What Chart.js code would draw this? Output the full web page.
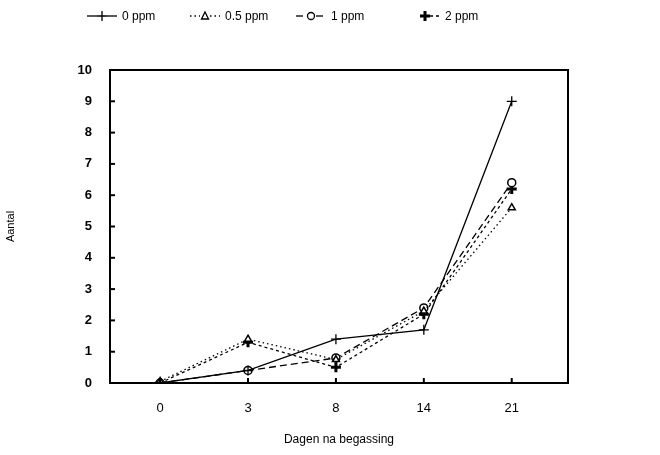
<!DOCTYPE html>
<html>
<head>
<meta charset="utf-8">
<script src="https://cdn.jsdelivr.net/npm/chart.js@4"></script>
<style>
  body { margin: 0; background: #fff; }
  #wrap { position: relative; width: 660px; height: 455px; }
  #legend { position: absolute; top: 7px; left: 0; width: 660px; height: 20px;
    font: 12px "Liberation Sans", Arial, sans-serif; color: #000; }
  .item { position: absolute; top: 0; display: flex; align-items: center; white-space: nowrap; }
  .item svg { margin-right: 5px; }
</style>
</head>
<body>
<div id="wrap">
  <canvas id="chart" width="660" height="455"></canvas>
  <div id="legend"></div>
</div>
<script>
const days = ['0', '3', '8', '14', '21'];
const seriesNames = ['0 ppm', '0.5 ppm', '1 ppm', '2 ppm'];
const ppm0 = [0, 0.4, 1.4, 1.7, 9.0];
const ppm05 = [0.05, 1.4, 0.75, 2.3, 5.6];
const ppm1 = [0, 0.4, 0.8, 2.4, 6.4];
const ppm2 = [0, 1.3, 0.5, 2.2, 6.2];
const yTicks = [0, 1, 2, 3, 4, 5, 6, 7, 8, 9, 10];

const styles = [
  { dash: [], point: 'cross', radius: 5, pw: 1.3, fill: '#fff' },
  { dash: [1.5, 3], point: 'triangle', radius: 4, pw: 1.5, fill: '#fff' },
  { dash: [7, 4], point: 'circle', radius: 4, pw: 1.5, fill: '#fff' },
  { dash: [3, 3], point: 'cross', radius: 5, pw: 3, fill: '#000' }
];
const values = [ppm0, ppm05, ppm1, ppm2];

const datasets = values.map((v, i) => ({
  label: seriesNames[i],
  data: v.map((y, j) => ({ x: j, y: y })),
  borderColor: '#000',
  borderWidth: 1.3,
  borderDash: styles[i].dash,
  pointStyle: styles[i].point,
  pointRadius: styles[i].radius,
  pointBorderWidth: styles[i].pw,
  pointBorderColor: '#000',
  pointBackgroundColor: styles[i].fill,
  tension: 0
}));

// frame and inward tick marks
const framePlugin = {
  id: 'frame',
  afterDatasetsDraw(chart) {
    const { ctx, chartArea: a, scales } = chart;
    ctx.save();
    ctx.strokeStyle = '#000';
    ctx.lineWidth = 2;
    ctx.strokeRect(a.left, a.top, a.right - a.left, a.bottom - a.top);
    ctx.lineWidth = 2;
    yTicks.forEach(t => {
      const y = scales.y.getPixelForValue(t);
      ctx.beginPath(); ctx.moveTo(a.left, y); ctx.lineTo(a.left + 5, y); ctx.stroke();
    });
    days.forEach((d, i) => {
      const x = scales.x.getPixelForValue(i);
      ctx.beginPath(); ctx.moveTo(x, a.bottom); ctx.lineTo(x, a.bottom - 5); ctx.stroke();
    });
    ctx.restore();
  }
};

const tickFont = { family: '"Liberation Sans", Arial, sans-serif', size: 13, weight: 'bold' };

new Chart(document.getElementById('chart'), {
  type: 'line',
  data: { datasets },
  options: {
    responsive: false,
    animation: false,
    layout: { padding: { top: 70, right: 92, left: 0, bottom: 0 } },
    plugins: { legend: { display: false }, tooltip: { enabled: false } },
    scales: {
      x: {
        type: 'linear',
        min: -0.57,
        max: 4.64,
        afterBuildTicks: s => { s.ticks = days.map((d, i) => ({ value: i })); },
        afterFit: s => { s.height = 72; },
        grid: { display: false },
        border: { display: false },
        ticks: { callback: v => days[v], color: '#000', font: { family: tickFont.family, size: 13 }, padding: 10 },
        title: { display: true, text: 'Dagen na begassing', color: '#000',
          font: { family: tickFont.family, size: 12 }, padding: { top: 0, bottom: 8 } }
      },
      y: {
        min: 0,
        max: 10,
        afterBuildTicks: s => { s.ticks = yTicks.map(v => ({ value: v })); },
        afterFit: s => { s.width = 110; },
        grid: { display: false },
        border: { display: false },
        ticks: { color: '#000', font: tickFont, padding: 10 },
        title: { display: true, text: 'Aantal', color: '#000',
          font: { family: tickFont.family, size: 11 }, padding: { top: 4, bottom: 0 } }
      }
    }
  },
  plugins: [framePlugin]
});

// legend
const legendX = [87, 190, 296, 410];
const legendEl = document.getElementById('legend');
seriesNames.forEach((name, i) => {
  const st = styles[i];
  const item = document.createElement('div');
  item.className = 'item';
  item.style.left = legendX[i] + 'px';
  let marker = '';
  if (st.point === 'cross') marker = `<path d="M15 4 V14 M10 9 H20" stroke="#000" stroke-width="${st.pw}"/>`;
  if (st.point === 'triangle') marker = `<path d="M15 5 L18.5 12 L11.5 12 Z" fill="#fff" stroke="#000" stroke-width="1.3"/>`;
  if (st.point === 'circle') marker = `<circle cx="15" cy="9" r="3.5" fill="#fff" stroke="#000" stroke-width="1.3"/>`;
  const dash = st.dash.length ? `stroke-dasharray="${st.dash.join(' ')}"` : '';
  const lineL = i === 3 ? '' : `<line x1="0" y1="9" x2="10" y2="9" stroke="#000" stroke-width="1.3" ${dash}/>`;
  item.innerHTML = `<svg width="30" height="18">${lineL}<line x1="20" y1="9" x2="30" y2="9" stroke="#000" stroke-width="1.3" ${dash}/>${marker}</svg><span>${name}</span>`;
  legendEl.appendChild(item);
});
</script>
</body>
</html>
